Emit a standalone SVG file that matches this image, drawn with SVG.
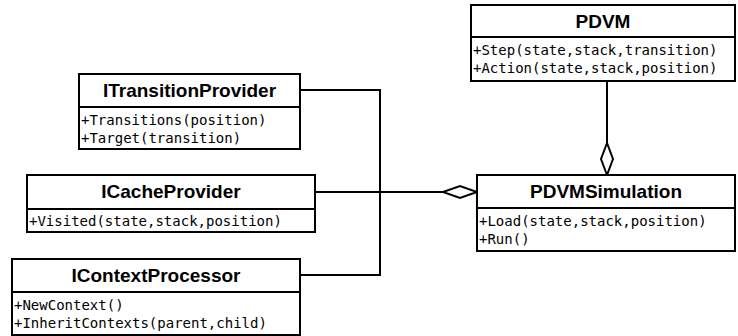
<svg xmlns="http://www.w3.org/2000/svg" width="738" height="336" viewBox="0 0 738 336">
<style>
.box{fill:#fff;stroke:#000;stroke-width:2}
.ln{fill:none;stroke:#000;stroke-width:2}
.t{font-family:"Liberation Sans",Arial,sans-serif;font-weight:bold;font-size:19px;text-anchor:middle;fill:#000}
.m{font-family:"DejaVu Sans Mono","Liberation Mono",monospace;font-size:14px;fill:#000}
</style>
<g id="connectors">
<path class="ln" d="M300,90 H380 V275 H300"/>
<path class="ln" d="M315,192 H443"/>
<path class="ln" d="M443,192 L460,186 L477,192 L460,198 Z" style="fill:#fff"/>
<path class="ln" d="M607,81 V143"/>
<path class="ln" d="M607,143 L613,159 L607,175 L601,159 Z" style="fill:#fff"/>
</g>
<g id="PDVM">
<rect class="box" x="471" y="5" width="264" height="76"/>
<line class="ln" x1="471" y1="37" x2="735" y2="37"/>
<text class="t" x="603" y="28">PDVM</text>
<text class="m" x="473" y="55">+Step(state,stack,transition)</text>
<text class="m" x="473" y="73">+Action(state,stack,position)</text>
</g>
<g id="ITransitionProvider">
<rect class="box" x="79" y="74" width="221" height="75"/>
<line class="ln" x1="79" y1="107" x2="300" y2="107"/>
<text class="t" x="189.5" y="97">ITransitionProvider</text>
<text class="m" x="81" y="125">+Transitions(position)</text>
<text class="m" x="81" y="143">+Target(transition)</text>
</g>
<g id="ICacheProvider">
<rect class="box" x="27" y="175" width="288" height="57"/>
<line class="ln" x1="27" y1="209" x2="315" y2="209"/>
<text class="t" x="171" y="198">ICacheProvider</text>
<text class="m" x="29" y="226">+Visited(state,stack,position)</text>
</g>
<g id="IContextProcessor">
<rect class="box" x="12" y="259" width="288" height="76"/>
<line class="ln" x1="12" y1="292" x2="300" y2="292"/>
<text class="t" x="156" y="282">IContextProcessor</text>
<text class="m" x="14" y="310">+NewContext()</text>
<text class="m" x="14" y="328">+InheritContexts(parent,child)</text>
</g>
<g id="PDVMSimulation">
<rect class="box" x="477" y="175" width="258" height="76"/>
<line class="ln" x1="477" y1="208" x2="735" y2="208"/>
<text class="t" x="606" y="198">PDVMSimulation</text>
<text class="m" x="479" y="226">+Load(state,stack,position)</text>
<text class="m" x="479" y="244">+Run()</text>
</g>
</svg>
